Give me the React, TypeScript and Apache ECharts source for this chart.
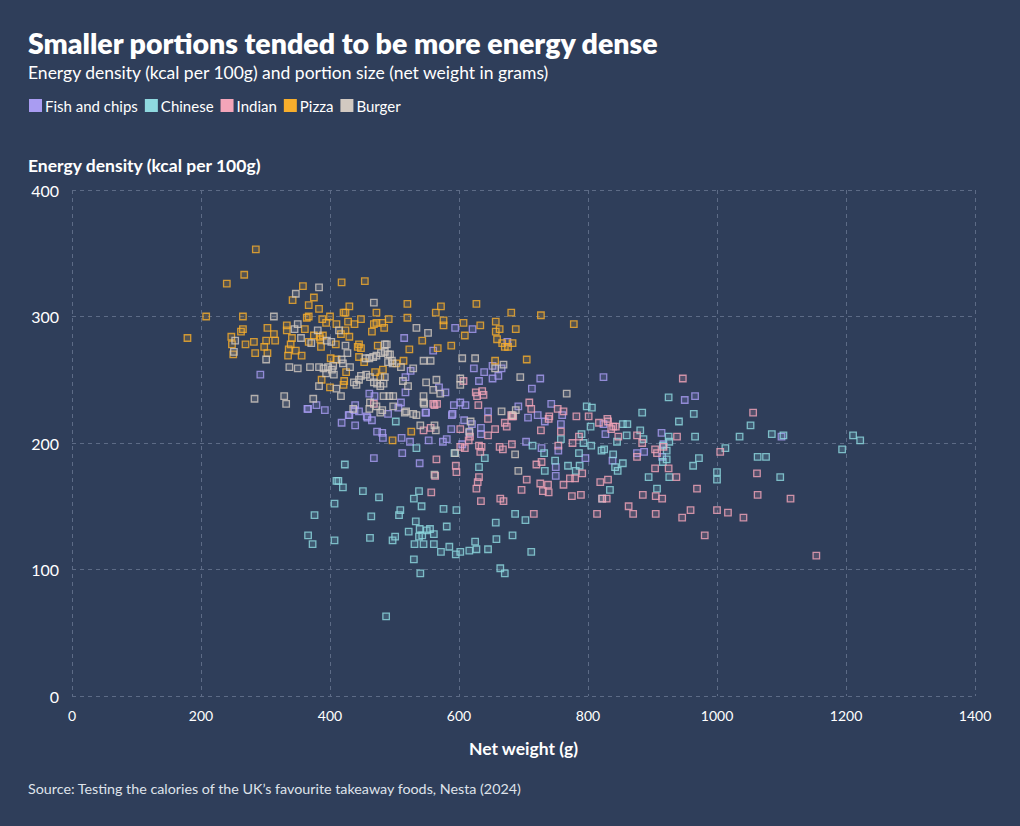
import React, { useEffect, useRef } from "react";
import * as echarts from "echarts";

const seriesNames = ["Fish and chips", "Chinese", "Indian", "Pizza", "Burger"];
const seriesColors = ["#a99cf2", "#8fd9e0", "#f4a5b9", "#f8ae2c", "#d2c9c1"];

const xTicks = [0, 200, 400, 600, 800, 1000, 1200, 1400];
const yTicks = [0, 100, 200, 300, 400];

// [net weight (g), energy density (kcal per 100g)]
const fishAndChips = [
  [292,254],[366,227],[392,226],[439,230],[438,226],[429,222],[461,239],[469,237],[458,220],[490,223],
  [594,291],[621,290],[515,283],[560,273],[675,280],[652,261],[666,259],[623,259],[639,256],[652,251],
  [661,253],[631,249],[726,251],[713,243],[824,252],[525,257],[517,252],[517,240],[569,244],[579,240],
  [592,230],[602,232],[610,230],[590,223],[510,232],[506,228],[548,224],[645,225],[692,229],[743,231],
  [760,222],[722,222],[950,234],[966,237],[914,208],[1100,205],[917,199],[876,192],[887,193],[915,189],
  [796,188],[758,215],[750,181],[750,174],[754,194],[827,207],[838,186],[824,215],[512,192],[468,188],
  [539,184],[418,216],[439,214],[365,227],[379,230],[430,222],[445,225],[457,221],[465,218],[473,209],
  [481,208],[482,204],[511,204],[549,224],[589,222],[608,218],[588,211],[553,202],[575,201],[581,203],
  [616,208],[634,212],[634,207],[620,215],[707,220],[733,217],[728,196],[605,199],[524,201],[704,201]
];

const chinese = [
  [798,229],[806,228],[925,236],[884,224],[964,223],[941,217],[1052,214],[1035,205],[1085,207],[1103,206],
  [1013,196],[854,215],[861,215],[860,206],[881,210],[886,203],[845,201],[926,201],[966,205],[1211,206],
  [1222,202],[1194,195],[1098,173],[1063,189],[1076,189],[1000,177],[1000,171],[972,188],[963,182],[916,198],
  [922,194],[916,185],[922,187],[926,173],[894,173],[907,164],[925,205],[834,163],[842,181],[846,178],
  [854,184],[839,191],[825,195],[790,207],[793,200],[804,213],[805,198],[786,192],[769,182],[781,178],
  [787,182],[749,186],[733,178],[732,192],[758,203],[821,194],[822,156],[487,63],[423,183],[410,170],
  [413,170],[420,165],[451,162],[476,157],[407,152],[376,143],[366,127],[373,120],[407,123],[464,142],
  [462,125],[538,162],[530,156],[542,150],[509,147],[507,143],[533,138],[522,130],[539,132],[550,131],
  [555,132],[561,128],[543,127],[538,126],[497,123],[501,126],[531,120],[545,120],[561,120],[530,108],
  [540,97],[576,148],[596,147],[581,134],[585,118],[572,114],[595,112],[602,114],[616,115],[627,116],
  [625,122],[645,116],[658,124],[657,137],[683,127],[687,144],[703,139],[712,114],[664,101],[671,97],
  [534,196],[640,188],[631,181],[593,192],[502,217],[714,198]
];

const indian = [
  [626,240],[636,241],[638,238],[628,237],[607,249],[560,231],[630,230],[709,232],[712,227],[753,227],
  [762,225],[782,221],[801,221],[830,219],[682,221],[947,251],[1056,224],[839,213],[843,213],[847,205],
  [876,206],[938,205],[884,200],[917,197],[1005,193],[1062,176],[1063,159],[1114,156],[1154,111],[1000,147],
  [1017,145],[1041,141],[981,127],[959,147],[946,141],[969,164],[937,173],[925,180],[904,180],[904,195],
  [907,192],[876,189],[905,158],[915,156],[885,159],[863,150],[870,144],[905,144],[814,144],[819,169],
  [831,171],[822,156],[829,156],[817,216],[831,217],[836,211],[754,198],[758,209],[776,200],[786,205],
  [780,172],[772,172],[791,176],[762,167],[739,161],[730,162],[775,158],[789,159],[728,185],[565,187],
  [563,174],[557,161],[595,182],[596,177],[631,198],[635,197],[633,193],[631,173],[629,169],[627,164],
  [634,154],[602,197],[609,196],[663,197],[668,195],[682,199],[664,156],[669,154],[697,163],[705,171],
  [716,144],[720,183],[726,168],[738,167],[562,230],[566,231],[645,219],[656,211],[671,216],[674,213],
  [681,222],[684,221],[740,221],[739,219],[727,210],[645,206],[545,210],[556,212],[602,211],[617,205],
  [615,202],[468,231]
];

const pizza = [
  [285,353],[267,333],[240,326],[208,300],[179,283],[265,300],[358,324],[375,315],[342,313],[367,309],
  [383,306],[418,327],[454,328],[430,308],[421,303],[424,303],[472,303],[364,299],[367,300],[400,300],
  [388,298],[448,298],[491,298],[468,294],[472,295],[481,295],[484,291],[465,288],[410,294],[394,295],
  [428,296],[438,294],[333,293],[333,289],[303,291],[313,286],[315,281],[301,281],[298,276],[303,271],
  [282,280],[269,278],[284,271],[247,284],[248,278],[250,270],[262,288],[265,290],[361,290],[375,285],
  [384,284],[389,285],[385,282],[341,283],[336,274],[339,278],[347,273],[335,269],[356,269],[367,280],
  [386,276],[409,278],[424,289],[430,284],[417,286],[445,278],[443,276],[448,275],[445,268],[474,277],
  [401,267],[410,266],[425,256],[422,249],[421,246],[400,244],[387,250],[453,264],[503,263],[520,310],
  [572,308],[564,303],[520,299],[627,310],[681,303],[727,301],[778,294],[576,297],[576,293],[607,295],
  [633,293],[657,296],[657,288],[663,290],[688,290],[609,285],[659,282],[667,279],[671,276],[676,276],
  [683,279],[543,281],[523,274],[567,275],[588,277],[656,265],[705,266],[514,265],[526,209],[497,202],
  [470,256],[478,252],[482,258]
];

const burger = [
  [383,323],[347,318],[468,311],[313,300],[350,294],[345,290],[381,289],[355,283],[371,279],[395,281],
  [402,280],[414,289],[253,281],[251,272],[301,266],[337,260],[350,259],[369,260],[383,260],[390,259],
  [397,260],[405,261],[406,254],[418,266],[424,277],[427,271],[431,260],[420,263],[410,243],[417,237],
  [383,245],[394,255],[403,258],[329,237],[332,231],[283,235],[374,235],[437,248],[441,246],[445,250],
  [448,253],[455,267],[461,267],[467,268],[472,269],[479,271],[488,278],[493,270],[497,263],[456,254],
  [462,252],[468,248],[473,247],[478,245],[485,252],[483,237],[492,237],[498,229],[472,229],[462,232],
  [478,224],[534,291],[552,287],[605,267],[625,267],[545,265],[556,265],[529,259],[510,260],[496,265],
  [669,262],[695,252],[767,239],[565,250],[549,248],[513,249],[521,245],[602,251],[602,246],[560,242],
  [571,239],[545,237],[545,232],[498,237],[666,225],[534,222],[516,224],[436,227],[461,227],[481,226],
  [518,225],[546,231],[540,214],[562,214],[564,210],[616,209],[618,217],[594,192],[687,191],[692,178],
  [562,175],[683,222],[529,223],[490,264],[485,272],[485,278],[490,270],[483,247],[656,259],[688,226]
];

const seriesData = [fishAndChips, chinese, indian, pizza, burger];

function hexToRgba(hex: string, a: number) {
  const n = parseInt(hex.slice(1), 16);
  return `rgba(${(n >> 16) & 255},${(n >> 8) & 255},${n & 255},${a})`;
}

const FONT = "Lato, 'Open Sans', sans-serif";

export default function App() {
  const ref = useRef<HTMLDivElement>(null);
  useEffect(() => {
    if (!ref.current) return;
    const chart = echarts.init(ref.current, undefined, { renderer: "svg" });
    const gridLine = { show: true, lineStyle: { color: "#5d6b86", type: [4, 4] as any, width: 1 } };
    chart.setOption({
      animation: false,
      backgroundColor: "#2f3e5a",
      textStyle: { fontFamily: FONT },
      title: [
        {
          text: "Smaller portions tended to be more energy dense",
          left: 28, top: 28, padding: 0,
          textStyle: { color: "#ffffff", fontSize: 28.5, fontWeight: 800, fontFamily: FONT },
        },
        {
          text: "Energy density (kcal per 100g) and portion size (net weight in grams)",
          left: 28, top: 63, padding: 0,
          textStyle: { color: "#ffffff", fontSize: 17.5, fontWeight: 400, fontFamily: FONT },
        },
        {
          text: "Energy density (kcal per 100g)",
          left: 28, top: 156, padding: 0,
          textStyle: { color: "#ffffff", fontSize: 17.5, fontWeight: 700, fontFamily: FONT },
        },
        {
          text: "Source: Testing the calories of the UK\u2019s favourite takeaway foods, Nesta (2024)",
          left: 28, top: 781, padding: 0,
          textStyle: { color: "#dfe3ea", fontSize: 14.3, fontWeight: 400, fontFamily: FONT },
        },
      ],
      legend: {
        left: 29, top: 98, padding: 0,
        icon: "rect",
        itemWidth: 13, itemHeight: 13, itemGap: 7,
        textStyle: { color: "#ffffff", fontSize: 15, fontFamily: FONT, padding: [0, 0, 0, -2] },
        data: seriesNames.map((n, i) => ({
          name: n,
          itemStyle: { color: seriesColors[i], borderWidth: 0, opacity: 1 },
        })),
      },
      grid: { left: 72, right: 45, top: 190, bottom: 130, containLabel: false },
      xAxis: {
        type: "value", min: 0, max: 1400, interval: 200,
        name: "Net weight (g)", nameLocation: "middle", nameGap: 43,
        nameTextStyle: { color: "#ffffff", fontSize: 17.5, fontWeight: 700, fontFamily: FONT },
        axisLine: { show: false }, axisTick: { show: false },
        axisLabel: { color: "#ffffff", fontSize: 14, margin: 12, fontFamily: FONT,
          formatter: (v: number) => (xTicks.includes(v) ? String(v) : "") },
        splitLine: gridLine,
      },
      yAxis: {
        type: "value", min: 0, max: 400, interval: 100,
        axisLine: { show: false }, axisTick: { show: false },
        axisLabel: { color: "#ffffff", fontSize: 16, margin: 13, fontFamily: FONT,
          formatter: (v: number) => (yTicks.includes(v) ? String(v) : "") },
        splitLine: gridLine,
      },
      series: seriesNames.map((n, i) => ({
        name: n,
        type: "scatter",
        symbol: "rect",
        symbolSize: 6.5,
        data: seriesData[i],
        itemStyle: {
          color: hexToRgba(seriesColors[i], 0.22),
          borderColor: seriesColors[i],
          borderWidth: 1.3,
        },
      })),
    });
    return () => chart.dispose();
  }, []);
  return (
    <div
      ref={ref}
      style={{ position: "fixed", left: 0, top: 0, width: 1020, height: 826 }}
    />
  );
}
